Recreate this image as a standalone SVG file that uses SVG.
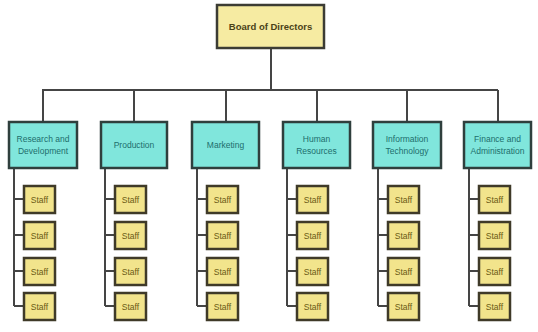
<svg xmlns="http://www.w3.org/2000/svg" width="538" height="332" viewBox="0 0 538 332">
  <defs>
    <style>
      .board { fill: #f6eba2; stroke: #3c3c34; stroke-width: 2.5; }
      .dept { fill: #80e6dc; stroke: #2f3f3d; stroke-width: 2.5; }
      .staff { fill: #f2e48c; stroke: #3f3a28; stroke-width: 2.5; }
      .wire { fill: none; stroke: #454545; stroke-width: 2; }
      text { font-family: "Liberation Sans", Arial, sans-serif; text-anchor: middle; }
      .tb { font-size: 9.5px; font-weight: bold; fill: #4a4218; }
      .td { font-size: 8.5px; fill: #1d6e6c; }
      .ts { font-size: 8.5px; fill: #6a5a14; }
    </style>
  </defs>

  <g id="connectors">
    <!-- trunk and branch bar -->
    <path class="wire" d="M271 48 V90 M42 90 H498"/>
    <path class="wire" d="M43 90 V122 M134 90 V122 M226 90 V122 M317 90 V122 M407 90 V122 M498 90 V122"/>
    <!-- staff spines and ticks -->
    <path class="wire" d="M14 168 V306 M14 199 H24 M14 235 H24 M14 271 H24 M14 306 H24"/>
    <path class="wire" d="M105 168 V306 M105 199 H115 M105 235 H115 M105 271 H115 M105 306 H115"/>
    <path class="wire" d="M197 168 V306 M197 199 H207 M197 235 H207 M197 271 H207 M197 306 H207"/>
    <path class="wire" d="M287 168 V306 M287 199 H297 M287 235 H297 M287 271 H297 M287 306 H297"/>
    <path class="wire" d="M378 168 V306 M378 199 H388 M378 235 H388 M378 271 H388 M378 306 H388"/>
    <path class="wire" d="M469 168 V306 M469 199 H479 M469 235 H479 M469 271 H479 M469 306 H479"/>
  </g>

  <g id="board">
    <rect class="board" x="217" y="5" width="107" height="43"/>
    <text class="tb" x="270.5" y="30">Board of Directors</text>
  </g>

  <g id="dept-rd">
    <rect class="dept" x="9" y="122" width="68" height="46"/>
    <text class="td" x="43" y="142">Research and</text>
    <text class="td" x="43" y="154">Development</text>
  </g>
  <g id="dept-production">
    <rect class="dept" x="101" y="122" width="66" height="46"/>
    <text class="td" x="134" y="148">Production</text>
  </g>
  <g id="dept-marketing">
    <rect class="dept" x="192" y="122" width="67" height="46"/>
    <text class="td" x="225.5" y="148">Marketing</text>
  </g>
  <g id="dept-hr">
    <rect class="dept" x="283" y="122" width="67" height="46"/>
    <text class="td" x="316.5" y="142">Human</text>
    <text class="td" x="316.5" y="154">Resources</text>
  </g>
  <g id="dept-it">
    <rect class="dept" x="373" y="122" width="68" height="46"/>
    <text class="td" x="407" y="142">Information</text>
    <text class="td" x="407" y="154">Technology</text>
  </g>
  <g id="dept-finance">
    <rect class="dept" x="464" y="122" width="67" height="46"/>
    <text class="td" x="497.5" y="142">Finance and</text>
    <text class="td" x="497.5" y="154">Administration</text>
  </g>

  <g id="staff-rd">
    <rect class="staff" x="24" y="186" width="31" height="27"/><text class="ts" x="39.5" y="202.5">Staff</text>
    <rect class="staff" x="24" y="222" width="31" height="27"/><text class="ts" x="39.5" y="238.5">Staff</text>
    <rect class="staff" x="24" y="258" width="31" height="27"/><text class="ts" x="39.5" y="274.5">Staff</text>
    <rect class="staff" x="24" y="293" width="31" height="27"/><text class="ts" x="39.5" y="309.5">Staff</text>
  </g>
  <g id="staff-production">
    <rect class="staff" x="115" y="186" width="31" height="27"/><text class="ts" x="130.5" y="202.5">Staff</text>
    <rect class="staff" x="115" y="222" width="31" height="27"/><text class="ts" x="130.5" y="238.5">Staff</text>
    <rect class="staff" x="115" y="258" width="31" height="27"/><text class="ts" x="130.5" y="274.5">Staff</text>
    <rect class="staff" x="115" y="293" width="31" height="27"/><text class="ts" x="130.5" y="309.5">Staff</text>
  </g>
  <g id="staff-marketing">
    <rect class="staff" x="207" y="186" width="31" height="27"/><text class="ts" x="222.5" y="202.5">Staff</text>
    <rect class="staff" x="207" y="222" width="31" height="27"/><text class="ts" x="222.5" y="238.5">Staff</text>
    <rect class="staff" x="207" y="258" width="31" height="27"/><text class="ts" x="222.5" y="274.5">Staff</text>
    <rect class="staff" x="207" y="293" width="31" height="27"/><text class="ts" x="222.5" y="309.5">Staff</text>
  </g>
  <g id="staff-hr">
    <rect class="staff" x="297" y="186" width="31" height="27"/><text class="ts" x="312.5" y="202.5">Staff</text>
    <rect class="staff" x="297" y="222" width="31" height="27"/><text class="ts" x="312.5" y="238.5">Staff</text>
    <rect class="staff" x="297" y="258" width="31" height="27"/><text class="ts" x="312.5" y="274.5">Staff</text>
    <rect class="staff" x="297" y="293" width="31" height="27"/><text class="ts" x="312.5" y="309.5">Staff</text>
  </g>
  <g id="staff-it">
    <rect class="staff" x="388" y="186" width="31" height="27"/><text class="ts" x="403.5" y="202.5">Staff</text>
    <rect class="staff" x="388" y="222" width="31" height="27"/><text class="ts" x="403.5" y="238.5">Staff</text>
    <rect class="staff" x="388" y="258" width="31" height="27"/><text class="ts" x="403.5" y="274.5">Staff</text>
    <rect class="staff" x="388" y="293" width="31" height="27"/><text class="ts" x="403.5" y="309.5">Staff</text>
  </g>
  <g id="staff-finance">
    <rect class="staff" x="479" y="186" width="31" height="27"/><text class="ts" x="494.5" y="202.5">Staff</text>
    <rect class="staff" x="479" y="222" width="31" height="27"/><text class="ts" x="494.5" y="238.5">Staff</text>
    <rect class="staff" x="479" y="258" width="31" height="27"/><text class="ts" x="494.5" y="274.5">Staff</text>
    <rect class="staff" x="479" y="293" width="31" height="27"/><text class="ts" x="494.5" y="309.5">Staff</text>
  </g>
</svg>
